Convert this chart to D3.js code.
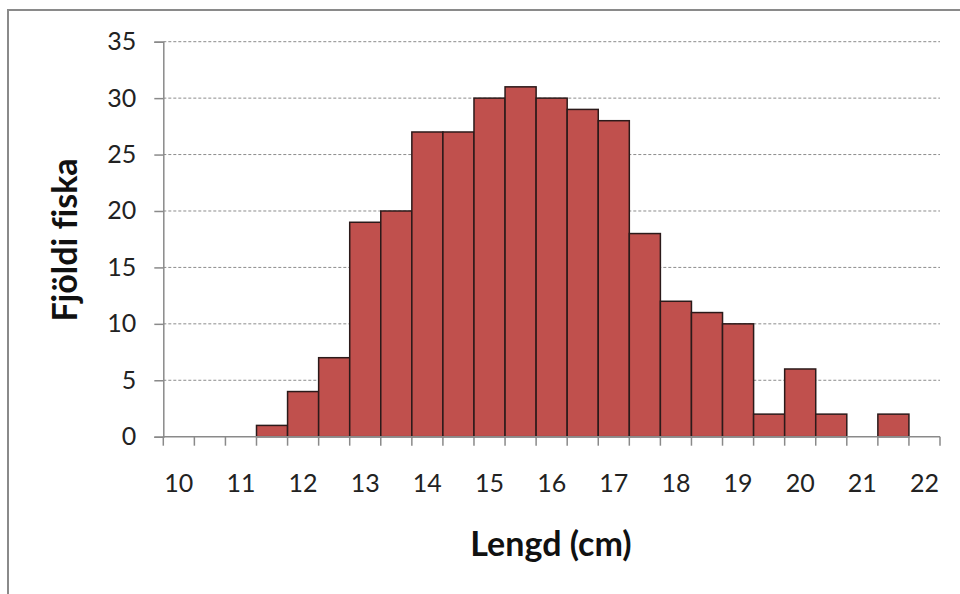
<!DOCTYPE html>
<html>
<head>
<meta charset="utf-8">
<script src="https://cdn.jsdelivr.net/npm/d3@7"></script>
<style>
  body { margin: 0; background: #fff; }
  svg { display: block; font-family: Lato, "Open Sans", sans-serif; font-variant-ligatures: none; }
</style>
</head>
<body>
<svg width="960" height="594"></svg>
<script>
// lengdarflokkar (0.5 cm) og fjöldi fiska
var bins = [10, 10.5, 11, 11.5, 12, 12.5, 13, 13.5, 14, 14.5, 15, 15.5, 16,
            16.5, 17, 17.5, 18, 18.5, 19, 19.5, 20, 20.5, 21, 21.5, 22];
var counts = [0, 0, 0, 1, 4, 7, 19, 20, 27, 27, 30, 31, 30,
              29, 28, 18, 12, 11, 10, 2, 6, 2, 0, 2, 0];
var yTicks = [0, 5, 10, 15, 20, 25, 30, 35];

var svg = d3.select("svg");

// outer chart border (runs off to the right and bottom)
svg.append("rect")
    .attr("x", 8).attr("y", 10)
    .attr("width", 1000).attr("height", 700)
    .attr("fill", "none")
    .attr("stroke", "#8a8a8a")
    .attr("stroke-width", 2);

var x = d3.scaleBand()
    .domain(bins)
    .range([163.3, 940])
    .padding(0);

var y = d3.scaleLinear()
    .domain([0, 35])
    .range([436.7, 41.7]);

// gridlines
svg.append("g")
    .selectAll("line")
    .data(yTicks.filter(function(d) { return d > 0; }))
    .join("line")
    .attr("x1", 163.3).attr("x2", 940)
    .attr("y1", function(d) { return y(d); })
    .attr("y2", function(d) { return y(d); })
    .attr("stroke", "#8c8c8c")
    .attr("stroke-width", 1)
    .attr("stroke-dasharray", "3,2");

// bars
svg.append("g")
    .selectAll("rect")
    .data(bins)
    .join("rect")
    .filter(function(d, i) { return counts[i] > 0; })
    .attr("x", function(d) { return x(d); })
    .attr("width", x.bandwidth())
    .attr("y", function(d) { return y(counts[bins.indexOf(d)]); })
    .attr("height", function(d) { return y(0) - y(counts[bins.indexOf(d)]); })
    .attr("fill", "#c0504d")
    .attr("stroke", "#2b1a1a")
    .attr("stroke-width", 1.5);

// y axis
var yAxis = svg.append("g")
    .attr("transform", "translate(163.3,0)")
    .call(d3.axisLeft(y).tickValues(yTicks).tickSize(9).tickPadding(18));
yAxis.select(".domain").attr("stroke", "#8a8a8a").attr("stroke-width", 1.5);
yAxis.selectAll(".tick line").attr("stroke", "#8a8a8a").attr("stroke-width", 1.5);
yAxis.selectAll(".tick text")
    .attr("font-family", "Lato, 'Open Sans', sans-serif")
    .attr("font-size", 25)
    .attr("fill", "#222");

// x axis: ticks at bin edges, labels under every other bin
var edges = bins.map(function(d) { return x(d); }).concat([940]);
var xg = svg.append("g");
xg.append("line")
    .attr("x1", 163.3).attr("x2", 940)
    .attr("y1", y(0)).attr("y2", y(0))
    .attr("stroke", "#8a8a8a").attr("stroke-width", 1.5);
xg.selectAll("line.tk")
    .data(edges)
    .join("line")
    .attr("class", "tk")
    .attr("x1", function(d) { return d; }).attr("x2", function(d) { return d; })
    .attr("y1", y(0)).attr("y2", y(0) + 9)
    .attr("stroke", "#8a8a8a").attr("stroke-width", 1.5);
xg.selectAll("text")
    .data(bins.filter(function(d) { return d % 1 === 0; }))
    .join("text")
    .attr("x", function(d) { return x(d) + x.bandwidth() / 2; })
    .attr("y", 492)
    .attr("text-anchor", "middle")
    .attr("font-size", 25)
    .attr("fill", "#222")
    .text(function(d) { return d; });

// axis titles
svg.append("text")
    .attr("x", 551).attr("y", 556)
    .attr("text-anchor", "middle")
    .attr("font-size", 34)
    .attr("font-weight", "bold")
    .attr("fill", "#111")
    .text("Lengd (cm)");

svg.append("text")
    .attr("transform", "translate(77,240) rotate(-90)")
    .attr("text-anchor", "middle")
    .attr("font-size", 34)
    .attr("font-weight", "bold")
    .attr("fill", "#111")
    .text("Fjöldi fiska");
</script>
</body>
</html>
